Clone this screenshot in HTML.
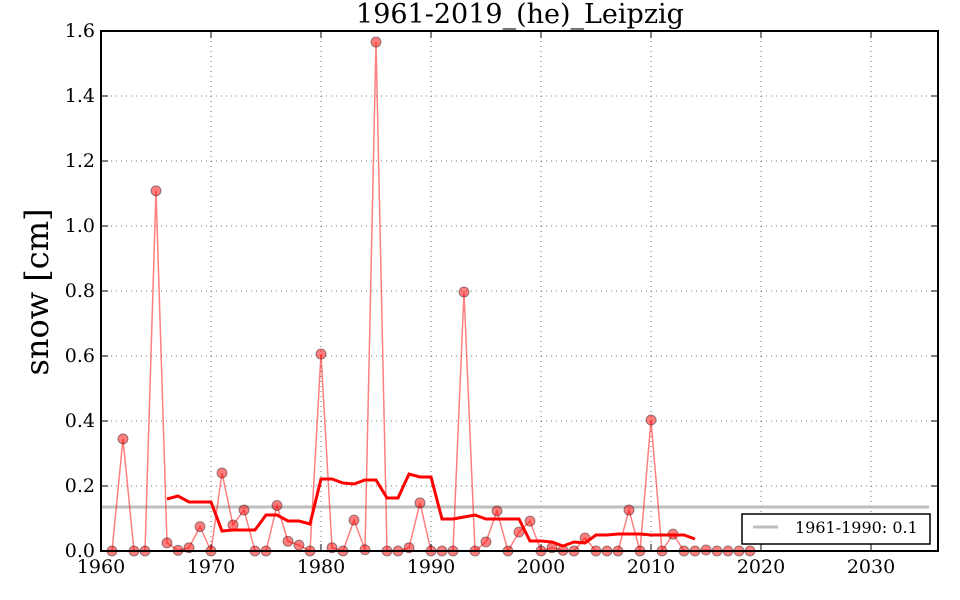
<!DOCTYPE html>
<html><head><meta charset="utf-8"><style>
html,body{margin:0;padding:0;background:#fff;}
svg{display:block;font-family:"DejaVu Serif","Liberation Serif",serif;}
</style></head><body>
<svg id="s" width="960" height="600" xmlns="http://www.w3.org/2000/svg">
<rect width="960" height="600" fill="#fff"/>
<g id="grid" stroke="#000" stroke-width="0.8" stroke-dasharray="1,4" opacity="0.7"></g>
<g id="ticks" stroke="#000" stroke-width="1"></g>
<line x1="101" y1="507" x2="929" y2="507" stroke="#bfbfbf" stroke-width="3"/>
<polyline id="raw" fill="none" stroke="#ff0000" stroke-opacity="0.5" stroke-width="1.5"/>
<g id="dots"></g>
<polyline id="ma" fill="none" stroke="#ff0000" stroke-width="3"/>
<rect x="101" y="31" width="837" height="520" fill="none" stroke="#000" stroke-width="2"/>
<g id="labels" font-size="19" fill="#000"></g>
<text x="520" y="23" font-size="27" text-anchor="middle">1961-2019_(he)_Leipzig</text>
<text transform="translate(48,292) rotate(-90)" font-size="32" text-anchor="middle">snow [cm]</text>
<rect x="742" y="514" width="188" height="30" fill="#fff" stroke="#000" stroke-width="1.5"/>
<line x1="753" y1="527" x2="778" y2="527" stroke="#bfbfbf" stroke-width="3"/>
<text x="795" y="533" font-size="16">1961-1990: 0.1</text>
</svg>
<script>
var NS="http://www.w3.org/2000/svg";
function X(y){return 101+(y-1960)*11;}
function Y(v){return 551-v*325;}
function el(t,a,p){var e=document.createElementNS(NS,t);for(var k in a)e.setAttribute(k,a[k]);document.getElementById(p).appendChild(e);return e;}
for(var yr=1970;yr<=2030;yr+=10){el('line',{x1:X(yr),y1:31,x2:X(yr),y2:551},'grid');}
for(var i=1;i<8;i++){var y=Y(i*0.2);el('line',{x1:101,y1:y,x2:938,y2:y},'grid');}
for(var yr=1960;yr<=2030;yr+=10){var x=X(yr);el('line',{x1:x,y1:551,x2:x,y2:544},'ticks');el('line',{x1:x,y1:31,x2:x,y2:38},'ticks');
 var t=el('text',{x:x,y:573,'text-anchor':'middle'},'labels');t.textContent=yr;}
for(var i=0;i<=8;i++){var v=i*0.2,y=Y(v);el('line',{x1:101,y1:y,x2:108,y2:y},'ticks');el('line',{x1:938,y1:y,x2:931,y2:y},'ticks');
 var t=el('text',{x:95,y:y+6,'text-anchor':'end'},'labels');t.textContent=v.toFixed(1);}
var d={1961:0,1962:0.345,1963:0,1964:0,1965:1.108,1966:0.025,1967:0.002,1968:0.01,1969:0.075,1970:0,1971:0.24,1972:0.08,1973:0.126,1974:0,1975:0,1976:0.14,1977:0.03,1978:0.018,1979:0,1980:0.606,1981:0.01,1982:0,1983:0.095,1984:0.004,1985:1.566,1986:0,1987:0,1988:0.01,1989:0.148,1990:0,1991:0,1992:0,1993:0.797,1994:0,1995:0.028,1996:0.123,1997:0,1998:0.058,1999:0.092,2000:0,2001:0.01,2002:0.002,2003:0,2004:0.04,2005:0,2006:0,2007:0,2008:0.126,2009:0,2010:0.403,2011:0,2012:0.052,2013:0,2014:0,2015:0.003,2016:0,2017:0,2018:0,2019:0};
var pts=[];for(var yr=1961;yr<=2019;yr++){var x=X(yr),y=Y(d[yr]);pts.push(x+','+y);
 el('circle',{cx:x,cy:y,r:5,fill:'#ff0000','fill-opacity':0.5,stroke:'#000','stroke-opacity':0.4,'stroke-width':1},'dots');}
document.getElementById('raw').setAttribute('points',pts.join(' '));
var m=[499,496,502,502,502,531,530,530,530,515,515,521,521,524,479,479,483,484,480,480,498,498,474,477,477,519,519,517,515,519,519,519,519,541,541,542,546,542,543,535,535,534,534,534,535,535,535,535,539];
var mp=[];for(var i=0;i<m.length;i++)mp.push(X(1966+i)+','+m[i]);
document.getElementById('ma').setAttribute('points',mp.join(' '));
</script>
</body></html>
